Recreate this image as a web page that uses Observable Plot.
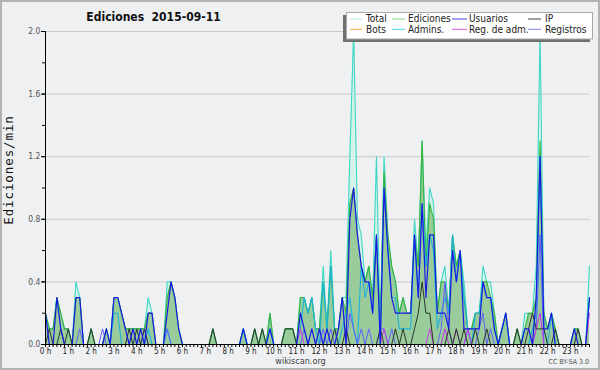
<!DOCTYPE html>
<html><head><meta charset="utf-8">
<script src="https://cdn.jsdelivr.net/npm/d3@7"></script>
<script src="https://cdn.jsdelivr.net/npm/@observablehq/plot@0.6"></script>
<style>
body{margin:0;background:#eff0f2}
#chart svg{display:block;outline:2px solid #b2b2b2;outline-offset:-2px}
</style>
</head><body><div id="chart"></div>
<script>
// 10-minute slots of 2015-09-11, values in edits/min
const minutes = d3.range(0, 1440, 10);

const total = [
 .2,.1,.1,.3,.2,.1,  .1,0,.4,.3,0,0,  .1,0,0,0,.1,0,  .3,.3,.2,.1,.1,.1,
 .1,.1,.1,.3,.2,0,  0,0,.4,.4,.3,.1,  0,0,0,0,0,0,  0,0,.1,0,0,0,
 0,0,0,0,.1,0,  0,.1,0,.1,0,.2,  0,0,0,.1,.1,.1,  0,.3,.3,.2,.3,.1,
 .1,.5,.1,.6,.1,.1,  .3,.3,1.2,2.0,.8,.7,  .4,.5,.3,1.2,.1,1.2,  .7,.5,.4,.2,.3,.2,
 .2,.8,.5,1.3,.6,1.0,  .9,.2,.4,.5,.2,.7,  .5,.6,.4,.1,.1,.2,  .2,.5,.4,.4,.2,0,
 .1,.2,0,0,.1,0,  .2,.2,.2,.5,2.0,.2,  .1,.2,.1,0,0,0,  0,.1,.1,0,0,.5
];
const ediciones = [
 .2,.1,.1,.3,.2,.1,  .1,0,.3,.3,0,0,  .1,0,0,0,.1,0,  .3,.3,.2,.1,.1,.1,
 .1,.1,.1,.2,.2,0,  0,0,.3,.4,.3,.1,  0,0,0,0,0,0,  0,0,.1,0,0,0,
 0,0,0,0,.1,0,  0,.1,0,.1,0,.2,  0,0,0,.1,.1,.1,  0,.3,.3,.2,.3,.1,
 .1,.4,.1,.5,.1,.1,  .3,.2,.9,1.0,.7,.5,  .4,.5,.3,.7,.1,1.1,  .7,.5,.4,.2,.3,.2,
 .2,.7,.5,1.3,.5,.9,  .8,.2,.4,.4,.2,.7,  .5,.6,.3,.1,.1,.2,  .2,.4,.4,.3,.2,0,
 .1,.2,0,0,.1,0,  .1,.2,.2,.3,1.3,.2,  .1,.2,.1,0,0,0,  0,.1,.1,0,0,.3
];
const usuarios = [
 .2,0,0,.3,.1,0,  0,0,.3,.3,0,0,  0,0,0,0,.1,0,  .3,.3,.2,.1,0,.1,
 0,.1,0,.2,.2,0,  0,0,.2,.4,.3,.1,  0,0,0,0,0,0,  0,0,0,0,0,0,
 0,0,0,0,.1,0,  0,0,0,0,0,.1,  0,0,0,0,0,0,  0,.2,.1,0,.1,0,
 .1,0,.1,0,0,.1,  .3,0,.8,1.0,.7,.5,  .4,.4,.2,.7,0,1.0,  .6,.3,.2,.2,.2,.2,
 .2,.7,.3,.9,.3,.7,  .7,.2,.2,.2,.1,.6,  .4,.6,.1,.1,.1,.1,  .1,.4,.3,.3,.1,0,
 .1,.2,0,0,0,0,  .1,.1,0,.3,1.2,.1,  .1,.2,0,0,0,0,  0,.1,0,0,0,.3
];
const ip = [
 0,.1,0,0,.1,0,  .1,0,0,0,0,0,  .1,0,0,0,0,0,  0,0,0,0,.1,0,
 .1,0,.1,0,0,0,  0,0,0,0,0,0,  0,0,0,0,0,0,  0,0,.1,0,0,0,
 0,0,0,0,0,0,  0,.1,0,.1,0,0,  0,0,0,.1,.1,.1,  0,0,0,0,0,0,
 0,0,0,0,.1,0,  0,.1,0,0,0,0,  0,0,0,0,.1,0,  0,0,.1,0,.1,0,
 0,.1,.2,.4,.2,.2,  0,0,0,0,.1,0,  .1,0,.1,0,0,.1,  0,0,.1,0,0,0,
 0,0,0,0,.1,0,  0,.1,.2,.1,.1,.1,  0,0,.1,0,0,0,  0,0,.1,0,0,0
];
const admins = [
 0,0,0,0,0,0,  0,0,0,0,0,0,  0,0,0,0,0,0,  .2,.2,0,0,0,0,
 0,0,0,.1,0,0,  0,0,.1,0,0,0,  0,0,0,0,0,0,  0,0,0,0,0,0,
 0,0,0,0,.1,0,  0,0,0,0,0,.1,  0,0,0,0,0,0,  0,.1,.3,.2,.3,.1,
 0,.4,.1,.5,.1,0,  .1,.2,.3,.1,0,.5,  .3,.4,.2,.7,0,1.0,  .6,.3,.3,.1,.1,.1,
 .1,.7,.3,.9,.5,.7,  .6,.1,.2,.3,.2,.7,  .4,.6,.3,.1,0,.2,  .2,.4,.3,.3,.1,0,
 .1,.2,0,0,0,0,  0,0,.1,.2,1.2,.1,  0,.2,0,0,0,0,  0,0,0,0,0,.3
];
const registros = [
 0,0,0,0,0,0,  0,0,0,.1,0,0,  0,0,0,.1,0,0,  0,0,0,0,0,0,
 0,0,.1,0,0,0,  0,0,.1,0,0,0,  0,0,0,0,0,0,  0,0,0,0,0,0,
 0,0,0,0,0,0,  0,0,0,0,0,0,  0,0,0,0,0,0,  0,0,.1,0,0,0,
 0,.1,0,.1,0,0,  0,0,.2,.1,0,.1,  0,.1,0,0,.1,.1,  0,.1,0,0,0,0,
 0,0,0,0,0,0,  0,0,.1,.4,.1,0,  0,0,0,.1,0,0,  .1,.2,0,.1,0,0,
 0,0,0,0,0,0,  0,0,0,.1,.7,0,  0,0,0,0,0,0,  0,0,0,0,0,0
];
const regAdm = [
 0,0,0,0,0,0,  0,0,0,0,0,0,  0,0,0,0,0,0,  0,0,0,0,0,0,
 0,0,0,0,0,0,  0,0,0,0,0,0,  0,0,0,0,0,0,  0,0,0,0,0,0,
 0,0,0,0,0,0,  0,0,0,0,0,0,  0,0,0,0,0,0,  0,.1,0,0,0,0,
 0,0,0,0,0,0,  0,0,0,0,0,0,  0,0,0,0,0,.1,  0,0,0,0,0,0,
 0,0,0,0,0,.1,  0,0,0,.1,0,0,  .1,0,0,.1,0,0,  0,0,0,0,0,0,
 0,0,0,0,0,0,  0,0,0,.1,.2,0,  0,0,0,0,0,0,  0,0,0,0,0,.2
];

const legendNames = ["Total","Ediciones","Usuarios","IP","Bots","Admins.","Reg. de adm.","Registros"];
const legendColors = ["#b4ebe2","#8ad68a","#4444e2","#3a3a3a","#ffa640","#44d0e2","#d25ae2","#8484f4"];
const hourTicks = d3.range(0, 1440, 60);
const yTicks = [0, 0.4, 0.8, 1.2, 1.6, 2.0];
const yMinor = [0, 0.2, 0.4, 0.6, 0.8, 1.0, 1.2, 1.4, 1.6, 1.8, 2.0];

const rows = minutes.map((t, i) => ({
  t, total: total[i], ediciones: ediciones[i], usuarios: usuarios[i], ip: ip[i],
  admins: admins[i], registros: registros[i], regAdm: regAdm[i]
}));

const FONT = "DejaVu Sans Condensed, DejaVu Sans, sans-serif";

const chart = Plot.plot({
  width: 600, height: 370,
  marginLeft: 45, marginRight: 11, marginTop: 31, marginBottom: 26,
  x: {domain: [0, 1430], axis: null},
  y: {domain: [0, 2], axis: null},
  style: {background: "#eff0f2", fontFamily: FONT, overflow: "visible"},
  marks: [
    Plot.ruleY(yTicks.slice(1), {stroke: "#c9c9cb"}),
    Plot.areaY(rows, {x: "t", y: "total", fill: "#d3f3ea"}),
    Plot.areaY(rows, {x: "t", y: "ediciones", fill: "#9acb9a"}),
    Plot.lineY(rows, {x: "t", y: "total", stroke: "#3ed6c4", strokeWidth: 1.1}),
    Plot.lineY(rows, {x: "t", y: "ediciones", stroke: "#38b238", strokeWidth: 1.1}),
    Plot.lineY(rows, {x: "t", y: "admins", stroke: "#1cb2dc", strokeWidth: 1.1}),
    Plot.lineY(rows, {x: "t", y: "registros", stroke: "#6060ff", strokeWidth: 1}),
    Plot.lineY(rows, {x: "t", y: "regAdm", stroke: "#c53ae6", strokeWidth: 1}),
    Plot.lineY(rows, {x: "t", y: "ip", stroke: "#2c342c", strokeWidth: 1}),
    Plot.lineY(rows, {x: "t", y: "usuarios", stroke: "#1818e4", strokeWidth: 1.2}),
    Plot.ruleX([0], {stroke: "#000"}),
    Plot.ruleY([0], {stroke: "#000"}),
    Plot.axisX({ticks: minutes, tickSize: 3, tickFormat: () => "", stroke: "#000", label: null}),
    Plot.axisY({ticks: yMinor, tickSize: 3, tickFormat: () => "", stroke: "#000", label: null}),
    Plot.axisY({ticks: yTicks, tickSize: 4, tickFormat: () => "", stroke: "#000", label: null}),
    Plot.text(hourTicks, {x: d => d, frameAnchor: "bottom", lineAnchor: "top", dy: 4,
      text: d => `${d / 60} h`, fontSize: 8, fill: "#1a1a1a"}),
    Plot.text(yTicks, {y: d => d, frameAnchor: "left", dx: -5, textAnchor: "end",
      text: d => d.toFixed(1), fontSize: 8.5, fill: "#555"})
  ]
});
document.getElementById("chart").appendChild(chart);

const svg = d3.select(chart);
svg.append("text").attr("x", 153.5).attr("y", 21).attr("text-anchor", "middle")
  .attr("font-family", FONT).attr("font-weight", "bold").attr("font-size", 12)
  .attr("fill", "#111").attr("xml:space", "preserve").style("white-space", "pre")
  .text("Ediciones  2015-09-11");
svg.append("text").attr("transform", "translate(13,170) rotate(-90)")
  .attr("text-anchor", "middle").attr("font-family", "DejaVu Sans Mono, monospace")
  .attr("font-size", 12.5).attr("letter-spacing", 0.9).attr("fill", "#111")
  .text("Ediciones/min");
svg.append("text").attr("x", 300.5).attr("y", 364).attr("text-anchor", "middle")
  .attr("font-family", FONT).attr("font-size", 9).attr("fill", "#444").text("wikiscan.org");
svg.append("text").attr("x", 589).attr("y", 364).attr("text-anchor", "end")
  .attr("font-family", FONT).attr("font-size", 7).attr("fill", "#555").text("CC BY-SA 3.0");

// legend
const lg = svg.append("g");
lg.append("rect").attr("x", 343).attr("y", 15).attr("width", 247).attr("height", 27).attr("fill", "#707070");
lg.append("rect").attr("x", 346.5).attr("y", 12.5).attr("width", 246).attr("height", 26.5)
  .attr("fill", "#fff").attr("stroke", "#a8a8a8");
const colSw = [[350, 362], [392, 405], [452, 467], [528, 541]];
const colTx = [366, 408, 469, 545];
const rowY = [19, 29.3];
legendNames.forEach((name, k) => {
  const c = k % 4, r = Math.floor(k / 4);
  lg.append("line").attr("x1", colSw[c][0]).attr("x2", colSw[c][1])
    .attr("y1", rowY[r]).attr("y2", rowY[r]).attr("stroke", legendColors[k]).attr("stroke-width", 1);
  lg.append("text").attr("x", colTx[c]).attr("y", rowY[r] + 3.4).attr("text-anchor", "start")
    .attr("font-family", FONT).attr("font-size", 10).attr("fill", "#222").text(name);
});
</script>
</body></html>
